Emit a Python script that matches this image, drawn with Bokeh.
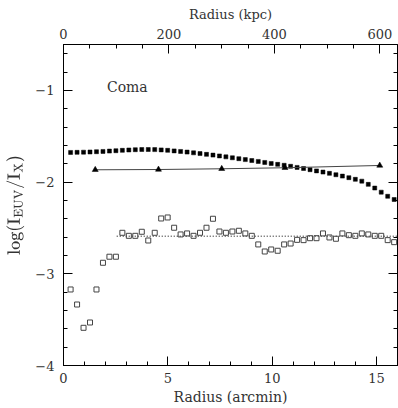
import math
from bokeh.plotting import figure
from bokeh.models import (Range1d, LinearAxis, FixedTicker, Label,
                          CustomJSTickFormatter)
from bokeh.embed import file_html
from bokeh.resources import INLINE

# ---------------- data ----------------
radius_arcmin = [0.34, 0.65, 0.96, 1.27, 1.58, 1.89, 2.20, 2.51, 2.82, 3.13,
                 3.44, 3.75, 4.06, 4.37, 4.68, 4.99, 5.30, 5.61, 5.92, 6.23,
                 6.54, 6.85, 7.16, 7.47, 7.78, 8.09, 8.40, 8.71, 9.02, 9.33,
                 9.64, 9.95, 10.26, 10.57, 10.88, 11.19, 11.50, 11.81, 12.12, 12.43,
                 12.74, 13.05, 13.36, 13.67, 13.98, 14.29, 14.60, 14.91, 15.22, 15.53,
                 15.84]

model_log_ratio = [-1.677, -1.676, -1.674, -1.672, -1.669, -1.666, -1.662, -1.658, -1.654, -1.650,
                   -1.647, -1.645, -1.645, -1.646, -1.649, -1.654, -1.660, -1.666, -1.673, -1.681,
                   -1.689, -1.698, -1.706, -1.715, -1.725, -1.735, -1.745, -1.755, -1.765, -1.775,
                   -1.786, -1.797, -1.807, -1.817, -1.828, -1.840, -1.852, -1.865, -1.878, -1.891,
                   -1.905, -1.920, -1.935, -1.952, -1.970, -1.990, -2.025, -2.065, -2.110, -2.155,
                   -2.190]

observed_log_ratio = [-3.171, -3.335, -3.589, -3.531, -3.171, -2.880, -2.814, -2.814, -2.553, -2.586,
                      -2.586, -2.542, -2.637, -2.553, -2.397, -2.386, -2.498, -2.571, -2.560, -2.586,
                      -2.553, -2.498, -2.400, -2.539, -2.553, -2.539, -2.531, -2.560, -2.586, -2.680,
                      -2.757, -2.735, -2.749, -2.680, -2.670, -2.630, -2.633, -2.612, -2.612, -2.560,
                      -2.604, -2.618, -2.560, -2.579, -2.586, -2.560, -2.571, -2.586, -2.586, -2.633,
                      -2.655]

tri_radius = [1.52, 4.55, 7.58, 10.61, 15.15]
tri_log_ratio = [-1.866, -1.863, -1.855, -1.844, -1.819]

mean_level_x = [2.55, 16.0]
mean_level_y = [-2.59, -2.59]

x_ticks = [0, 5, 10, 15]
y_ticks = [-4, -3, -2, -1]
kpc_ticks = [0, 200, 400, 600]
kpc_per_arcmin = 39.6

FONT = "DejaVu Serif"
TXT = "#333333"

p = figure(width=398, height=408, output_backend="svg", toolbar_location=None,
           x_range=Range1d(0, 16), y_range=Range1d(-4, -0.5),
           x_axis_location=None, y_axis_location=None,
           min_border_left=63, min_border_right=1, min_border_top=44, min_border_bottom=43)
p.extra_x_ranges = {"kpc": Range1d(0, 16 * kpc_per_arcmin)}
p.grid.visible = False
p.outline_line_color = "black"
p.outline_line_width = 1
p.background_fill_color = "white"
p.border_fill_color = "white"


def style(ax, label=True):
    ax.major_tick_in = 9
    ax.major_tick_out = 0
    ax.minor_tick_in = 4
    ax.minor_tick_out = 0
    ax.axis_line_color = "black"
    ax.major_tick_line_color = "black"
    ax.minor_tick_line_color = "black"
    ax.major_label_text_font = FONT
    ax.major_label_text_font_size = "13px"
    ax.major_label_text_color = TXT
    ax.axis_label_text_font = FONT
    ax.axis_label_text_font_style = "normal"
    ax.axis_label_text_color = TXT
    if not label:
        ax.formatter = CustomJSTickFormatter(code="return ''")
        ax.major_label_standoff = 0


minor_x = list(range(0, 17))
minor_y = [round(-4 + 0.2 * i, 2) for i in range(18)]
minor_kpc = list(range(0, 650, 50))

bottom = LinearAxis(ticker=FixedTicker(ticks=x_ticks, minor_ticks=minor_x))
style(bottom)
bottom.major_label_standoff = 7
bottom.axis_label = "Radius (arcmin)"
bottom.axis_label_text_font_size = "14px"
bottom.axis_label_standoff = 3
p.add_layout(bottom, "below")

top = LinearAxis(x_range_name="kpc", ticker=FixedTicker(ticks=kpc_ticks, minor_ticks=minor_kpc))
style(top)
top.major_label_standoff = 6
top.axis_label = "Radius (kpc)"
top.axis_label_text_font_size = "13px"
top.axis_label_standoff = 4
p.add_layout(top, "above")

left = LinearAxis(ticker=FixedTicker(ticks=y_ticks, minor_ticks=minor_y))
style(left)
left.major_label_standoff = 9
left.major_label_overrides = {t: "\u2212" + str(abs(t)) for t in y_ticks}
left.axis_label = r"$$\mathrm{log(I_{EUV}/I_{X})}$$"
left.axis_label_text_font_size = "15px"
left.axis_label_standoff = 8
p.add_layout(left, "left")

right = LinearAxis(ticker=FixedTicker(ticks=y_ticks, minor_ticks=minor_y))
style(right, label=False)
p.add_layout(right, "right")

# ---------------- glyphs ----------------
p.line(mean_level_x, mean_level_y, line_color="black", line_width=1, line_dash="1 2")
p.scatter(radius_arcmin, observed_log_ratio, marker="square", size=5,
          fill_color=None, line_color="#444444", line_width=1)
p.scatter(radius_arcmin, model_log_ratio, marker="square", size=4,
          fill_color="black", line_color="black", line_width=0.5)
p.line(tri_radius, tri_log_ratio, line_color="#444444", line_width=1)
p.scatter(tri_radius, tri_log_ratio, marker="triangle", size=6,
          fill_color="black", line_color="black", line_width=0.5)

# ---------------- texts ----------------
p.add_layout(Label(x=2.08, y=-0.96, text="Coma", text_font=FONT, text_font_size="14px",
                   text_color=TXT, text_baseline="alphabetic", text_align="left"))

open("out.html", "w").write(file_html(p, INLINE))
